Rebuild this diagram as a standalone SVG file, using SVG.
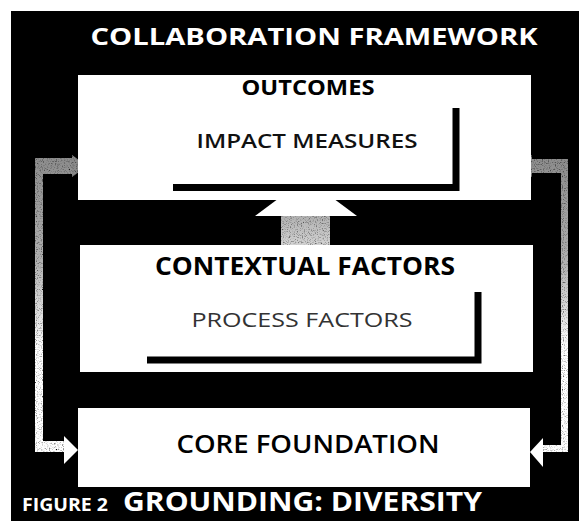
<svg xmlns="http://www.w3.org/2000/svg" width="583" height="521" viewBox="0 0 583 521">
<style>
  .box { fill: #ffffff; }
  .hdr { font-family: "Open Sans", "Liberation Sans", sans-serif; font-weight: 700; fill: #000; }
  .hdr2 { font-family: "Open Sans", "Liberation Sans", sans-serif; font-weight: 600; fill: #000; }
  .sub { font-family: "Open Sans", "Liberation Sans", sans-serif; font-weight: 600; fill: #111; }
  .sub2 { font-family: "Open Sans", "Liberation Sans", sans-serif; font-weight: 400; fill: #333; }
  .cap { font-family: "Open Sans", "Liberation Sans", sans-serif; font-weight: 700; fill: #fff; }
  .loop { fill: none; stroke-linejoin: miter; }
  .lshape { fill: none; stroke: #000; stroke-width: 7; }
</style>
<defs>
  <linearGradient id="gLoop" gradientUnits="userSpaceOnUse" x1="0" y1="150" x2="0" y2="350">
    <stop offset="0" stop-color="#8a8a8a"/>
    <stop offset="0.55" stop-color="#b0b0b0"/>
    <stop offset="1" stop-color="#ffffff"/>
  </linearGradient>
  <linearGradient id="gShaft" x1="0" y1="0" x2="0" y2="1">
    <stop offset="0" stop-color="#b0b0b0"/>
    <stop offset="1" stop-color="#d4d4d4"/>
  </linearGradient>
  <filter id="speckle" x="0" y="0" width="1" height="1">
    <feTurbulence type="fractalNoise" baseFrequency="0.85" numOctaves="1" seed="4" result="n"/>
    <feColorMatrix in="n" type="matrix" values="0 0 0 0 0  0 0 0 0 0  0 0 0 0 0  0 0 0 -3 1.5" result="dots"/>
    <feComposite in="dots" in2="SourceGraphic" operator="in" result="dm"/>
    <feMerge><feMergeNode in="SourceGraphic"/><feMergeNode in="dm"/></feMerge>
  </filter>
</defs>

<rect x="0" y="0" width="583" height="521" fill="#ffffff"/>
<rect x="11" y="11" width="568" height="510" fill="#000000"/>

<text class="cap" x="314" y="45" font-size="24" text-anchor="middle" textLength="447" lengthAdjust="spacingAndGlyphs">COLLABORATION FRAMEWORK</text>

<g id="connectors">
  <g filter="url(#speckle)">
    <path class="loop" d="M 74 166 H 35 V 449 H 66" stroke="url(#gLoop)" stroke-width="16"/>
    <polygon points="72,155 87,166 72,177" fill="#8a8a8a"/>
    <path class="loop" d="M 530 166 H 568 V 452 H 543" stroke="url(#gLoop)" stroke-width="14"/>
    <polygon points="532,155 518,166 532,177" fill="#8a8a8a"/>
    <rect x="281" y="215" width="49" height="31" fill="url(#gShaft)"/>
  </g>
  <polygon points="64,436 78,450 64,464" fill="#ffffff"/>
  <polygon points="543,438 530,452 543,467" fill="#ffffff"/>
  <polygon points="306,178 255,216 357,216" fill="#ffffff"/>
</g>

<g id="outcomes">
  <rect class="box" x="78" y="75" width="453" height="125"/>
  <text class="hdr" x="308" y="95" font-size="21" text-anchor="middle" textLength="133" lengthAdjust="spacingAndGlyphs">OUTCOMES</text>
  <text class="sub" x="307" y="148" font-size="20" text-anchor="middle" textLength="221" lengthAdjust="spacingAndGlyphs">IMPACT MEASURES</text>
  <path class="lshape" d="M 173 187.5 H 456 V 108"/>
</g>

<g id="contextual">
  <rect class="box" x="80" y="245" width="453" height="127"/>
  <text class="hdr" x="305" y="275" font-size="25" text-anchor="middle" textLength="300" lengthAdjust="spacingAndGlyphs">CONTEXTUAL FACTORS</text>
  <text class="sub2" x="302" y="327" font-size="20" text-anchor="middle" textLength="221" lengthAdjust="spacingAndGlyphs">PROCESS FACTORS</text>
  <path class="lshape" d="M 147 360 H 478 V 292"/>
</g>

<g id="core">
  <rect class="box" x="78" y="408" width="452" height="79"/>
  <text class="hdr2" x="308" y="453" font-size="25" text-anchor="middle" textLength="263" lengthAdjust="spacingAndGlyphs">CORE FOUNDATION</text>
</g>

<g id="caption">
  <text class="cap" x="22" y="511" font-size="17" textLength="86" lengthAdjust="spacingAndGlyphs">FIGURE 2</text>
  <text class="cap" x="123" y="511" font-size="26" textLength="359" lengthAdjust="spacingAndGlyphs">GROUNDING: DIVERSITY</text>
</g>
</svg>
